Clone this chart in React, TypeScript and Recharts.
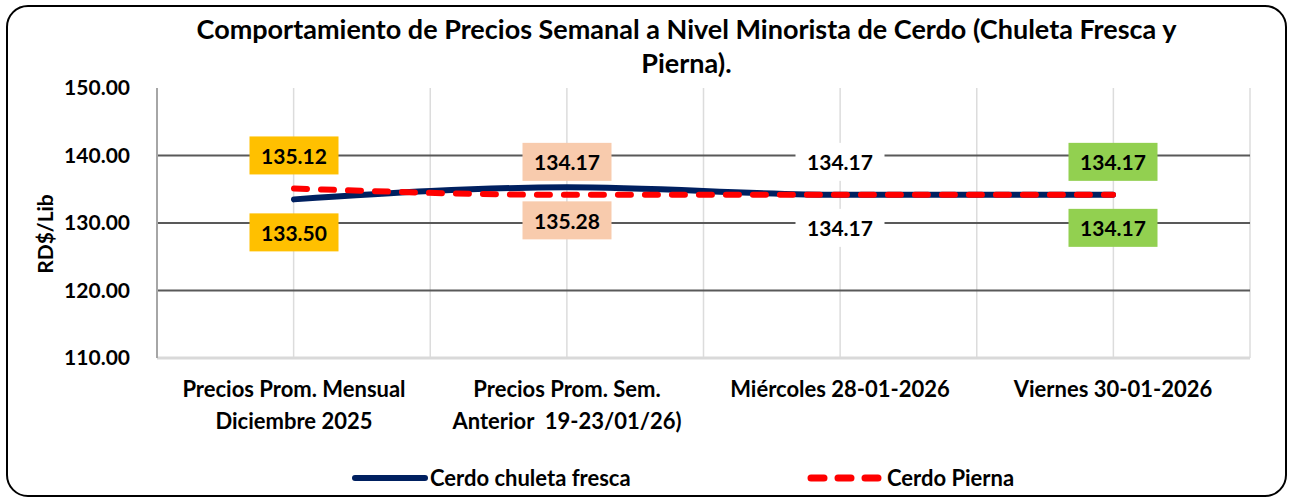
import React from 'react';
import { LineChart, Line, XAxis, YAxis, CartesianGrid, LabelList, Legend } from 'recharts';

const categories = [
  'Precios Prom. Mensual|Diciembre 2025',
  'Precios Prom. Sem.|Anterior  19-23/01/26)',
  'Miércoles 28-01-2026',
  'Viernes 30-01-2026',
];
const chuleta = [133.5, 135.28, 134.17, 134.17];
const pierna = [135.12, 134.17, 134.17, 134.17];
const yTicks = [110, 120, 130, 140, 150];
const labelFills = ['#FFC000', '#F8CBAD', '#FFFFFF', '#92D050'];
const seriesNames = ['Cerdo chuleta fresca', 'Cerdo Pierna'];
const titleLines = [
  'Comportamiento de Precios Semanal a Nivel Minorista de Cerdo (Chuleta Fresca y',
  'Pierna).',
];
const yAxisTitle = 'RD$/Lib';

const data = categories.map((c, i) => ({ cat: c, chuleta: chuleta[i], pierna: pierna[i] }));

const FONT = 'Lato, "Open Sans", sans-serif';
const Y_MIN = yTicks[0];
const Y_MAX = yTicks[yTicks.length - 1];

const XTick = (props: any) => {
  const { x, y, payload } = props;
  const lines = String(payload.value).split('|');
  return (
    <g>
      {lines.map((l, i) => (
        <text key={i} x={x} y={y + 22 + i * 32} textAnchor="middle" dominantBaseline="central"
          fontFamily={FONT} fontWeight={700} fontSize={22} fill="#000" style={{ whiteSpace: 'pre' }}>{l}</text>
      ))}
    </g>
  );
};

const makeLabel = (dir: number) => (props: any) => {
  const { x, y, value, index } = props;
  const cy = y + dir * 33;
  const w = 89, h = 38;
  return (
    <g>
      <rect x={x - w / 2} y={cy - h / 2} width={w} height={h} fill={labelFills[index]} />
      <text x={x} y={cy} textAnchor="middle" dominantBaseline="central"
        fontFamily={FONT} fontWeight={700} fontSize={21} fill="#000">{Number(value).toFixed(2)}</text>
    </g>
  );
};

const YTitle = (props: any) => {
  const { viewBox } = props;
  const cx = 44;
  const cy = viewBox.y + viewBox.height / 2 + 11;
  return (
    <text x={cx} y={cy} transform={`rotate(-90 ${cx} ${cy})`} textAnchor="middle" dominantBaseline="central"
      fontFamily={FONT} fontWeight={700} fontSize={21} fill="#000">{yAxisTitle}</text>
  );
};

const LegendContent = () => (
  <div style={{ position: 'relative', height: 26, fontFamily: FONT, fontWeight: 700, fontSize: 22, color: '#000' }}>
    <svg width={80} height={14} style={{ position: 'absolute', left: 350, top: 6 }}>
      <line x1={5} y1={7} x2={75} y2={7} stroke="#002060" strokeWidth={6} strokeLinecap="round" />
    </svg>
    <span style={{ position: 'absolute', left: 430, top: 0, lineHeight: '26px', whiteSpace: 'nowrap' }}>{seriesNames[0]}</span>
    <svg width={80} height={14} style={{ position: 'absolute', left: 806, top: 6 }}>
      <line x1={5} y1={7} x2={76} y2={7} stroke="#FF0000" strokeWidth={7} strokeLinecap="round" strokeDasharray="13 14" />
    </svg>
    <span style={{ position: 'absolute', left: 887, top: 0, lineHeight: '26px', whiteSpace: 'nowrap' }}>{seriesNames[1]}</span>
  </div>
);

export default function App() {
  return (
    <div style={{ position: 'absolute', left: 0, top: 0, width: 1291, height: 501, background: '#fff' }}>
      <div style={{ position: 'absolute', left: 6, top: 5, width: 1281, height: 492, boxSizing: 'border-box', border: '2px solid #000', borderRadius: 22 }} />
      {titleLines.map((t, i) => (
        <div key={i} style={{ position: 'absolute', left: 0, width: 1373, top: 12 + i * 34, textAlign: 'center', fontFamily: FONT, fontWeight: 700, fontSize: 27, lineHeight: '34px', color: '#000', whiteSpace: 'nowrap' }}>{t}</div>
      ))}
      <div style={{ position: 'absolute', left: 0, top: 0 }}>
        <LineChart width={1291} height={501} data={data} margin={{ top: 88, right: 41, left: 0, bottom: 0 }}>
          <CartesianGrid
            stroke="#dcdcdc"
            strokeWidth={1.5}
            horizontal={false}
            verticalCoordinatesGenerator={({ offset }: any) =>
              Array.from({ length: 9 }, (_, i) => offset.left + (i * offset.width) / 8)
            }
          />
          <CartesianGrid
            stroke="#595959"
            strokeWidth={2}
            vertical={false}
            horizontalCoordinatesGenerator={({ offset }: any) =>
              yTicks.filter((t) => t > Y_MIN && t < Y_MAX).map((t) => offset.top + ((Y_MAX - t) / (Y_MAX - Y_MIN)) * offset.height)
            }
          />
          <XAxis dataKey="cat" height={143} padding={{ left: 137, right: 137 }} tick={<XTick />}
            tickLine={false} axisLine={{ stroke: '#d9d9d9', strokeWidth: 3 }} interval={0} />
          <XAxis xAxisId="top" orientation="top" dataKey="cat" height={0} tick={false} tickLine={false}
            axisLine={{ stroke: '#a6a6a6', strokeWidth: 2 }} />
          <YAxis width={157} domain={[Y_MIN, Y_MAX]} ticks={yTicks} tickSize={0} tickMargin={27}
            tickLine={false} axisLine={{ stroke: '#a6a6a6', strokeWidth: 2 }}
            tickFormatter={(v: number) => v.toFixed(2)}
            tick={{ fontFamily: FONT, fontWeight: 700, fontSize: 21, fill: '#000' }}
            label={<YTitle />} />
          <YAxis yAxisId="right" orientation="right" width={0} tick={false} tickLine={false}
            axisLine={{ stroke: '#a6a6a6', strokeWidth: 2 }} />
          <Legend verticalAlign="middle" layout="horizontal" align="center" content={<LegendContent />}
            wrapperStyle={{ position: 'absolute', left: 0, top: 465, width: 1291 }} />
          <Line dataKey="chuleta" name={seriesNames[0]} type="monotone" stroke="#002060" strokeWidth={6}
            strokeLinecap="round" dot={false} activeDot={false} isAnimationActive={false}>
            <LabelList dataKey="chuleta" content={makeLabel(1)} />
          </Line>
          <Line dataKey="pierna" name={seriesNames[1]} type="monotone" stroke="#FF0000" strokeWidth={6}
            strokeLinecap="round" strokeDasharray="13 14" dot={false} activeDot={false} isAnimationActive={false}>
            <LabelList dataKey="pierna" content={makeLabel(-1)} />
          </Line>
        </LineChart>
      </div>
    </div>
  );
}
